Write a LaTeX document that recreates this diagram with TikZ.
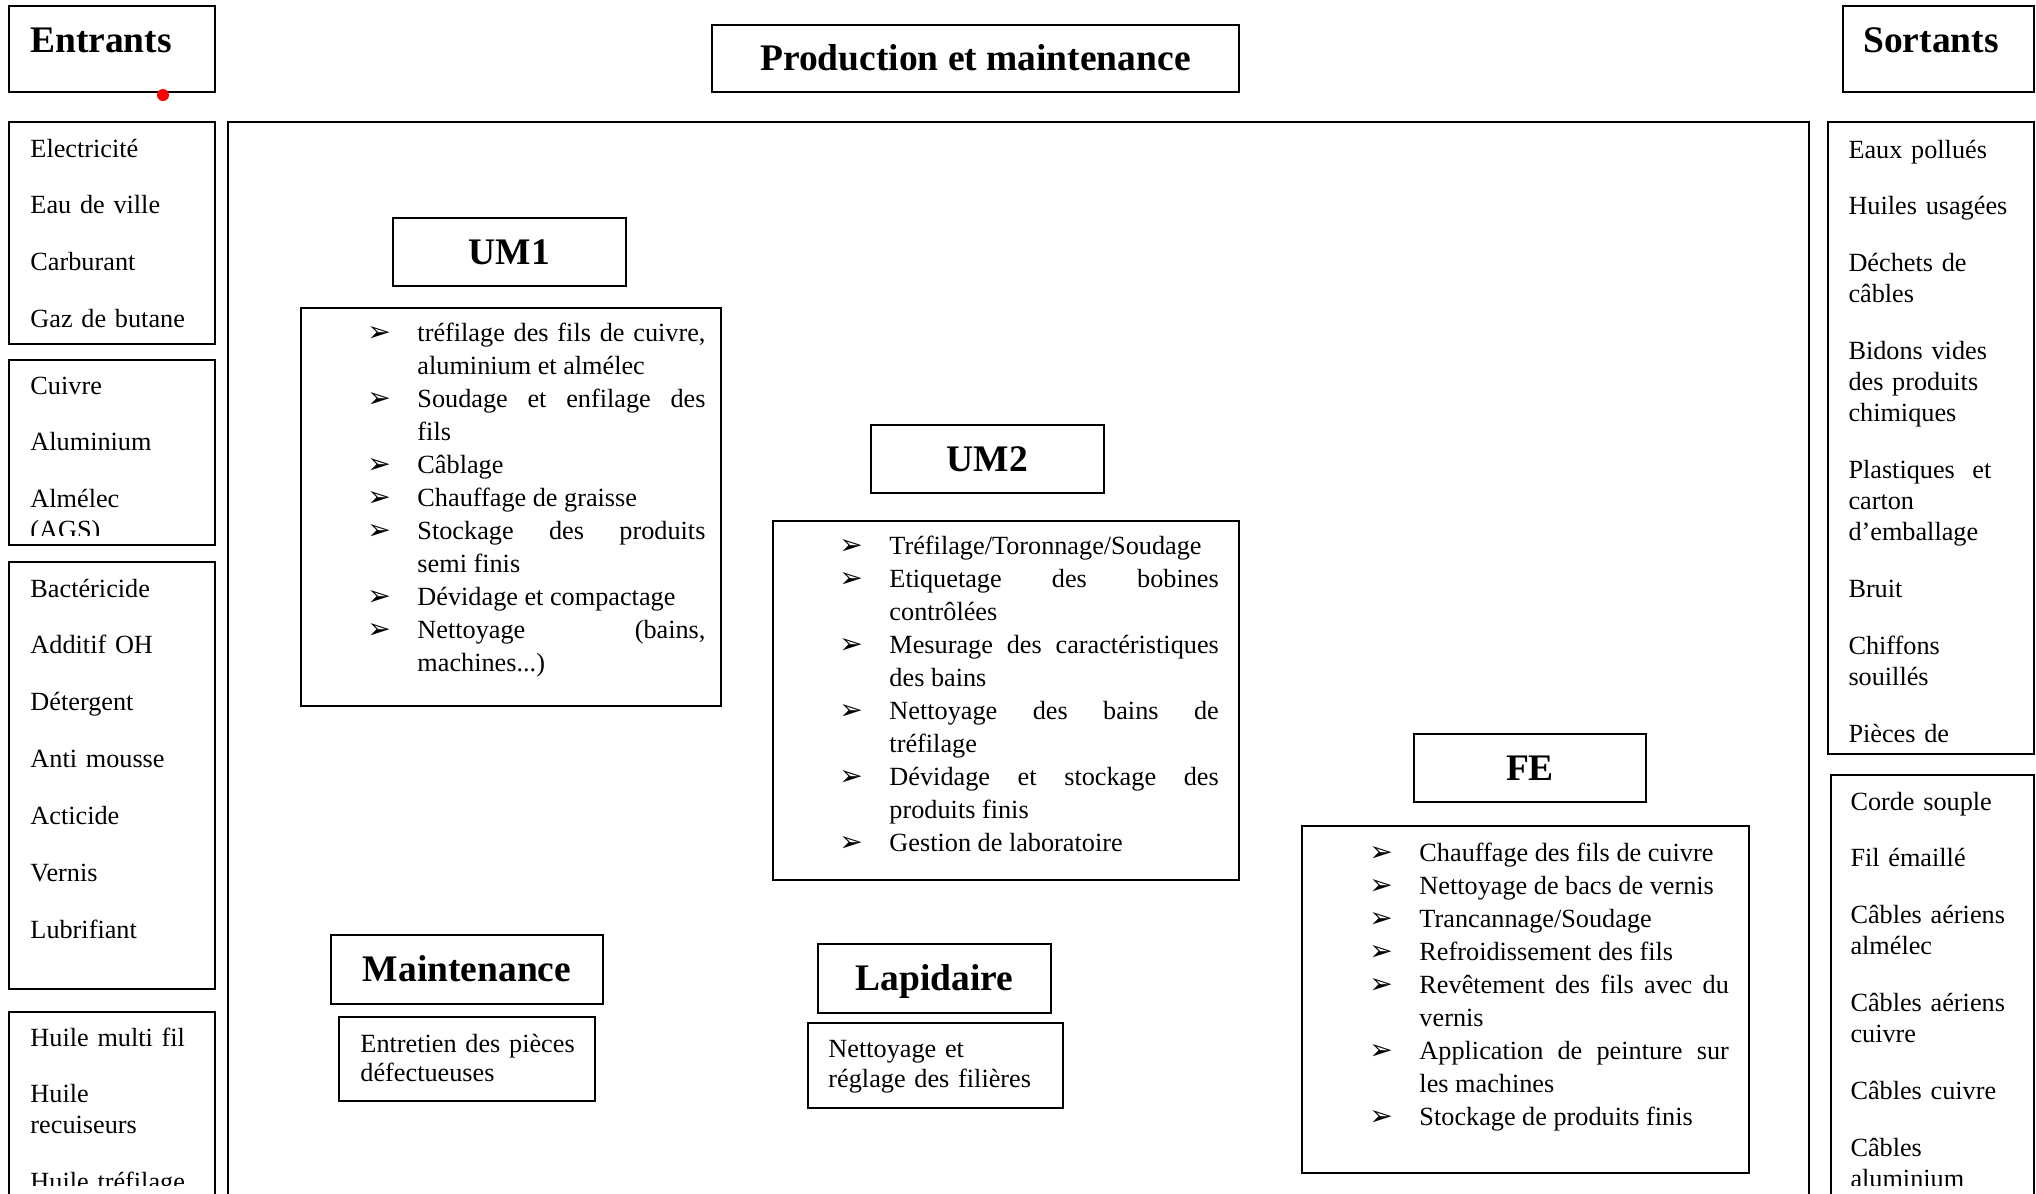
\documentclass[tikz,border=0pt]{standalone}
\usepackage{fontspec}
\setmainfont{Liberation Serif}
\newfontfamily\dingfont{DejaVu Sans}
\usetikzlibrary{fit, positioning}
\setlength{\parskip}{0pt}
\hyphenpenalty=10000
\exhyphenpenalty=10000
\tolerance=9999

% puce fleche des listes
\newcommand{\fleche}{{\dingfont\fontsize{12}{12}\selectfont ➢}}
\newcommand{\puce}[1]{\noindent\hangindent=0.75cm\hangafter=1\makebox[0.75cm][l]{\fleche}#1\par}

\begin{document}
\begin{tikzpicture}[
    x=0.015cm, y=-0.015cm,
    cadre/.style={draw, line width=0.8pt, inner sep=0pt},
    titre/.style={font=\fontsize{16}{19}\selectfont\bfseries, text height=10.6pt,
                  text depth=0pt, inner sep=0pt},
    liste/.style={anchor=base west, inner sep=0pt, align=left, text width=3.2cm,
                  font=\fontsize{11.2}{13.2}\selectfont},
    taches/.style={anchor=base west, inner sep=0pt, align=justify,
                   font=\fontsize{11.2}{14.1}\selectfont}
]
    \useasboundingbox (0,0) rectangle (2036,1193);
    \clip (0,0) rectangle (2036,1193);

    % En-tetes
    \node[cadre, fit={(9,6) (215,92)}] (entrants) {};
    \node[titre] (entrantslbl) at (101,40) {Entrants};
    \node[cadre, fit={(712,25) (1239,92)}] (prod) {};
    \node[titre] (prodlbl) at (prod.center) {Production et maintenance};
    \node[cadre, fit={(1843,6) (2034,92)}] (sortants) {};
    \node[titre] (sortantslbl) at (1931,40) {Sortants};
    \node[circle, fill=red, inner sep=0pt, minimum size=0.18cm] (point) at (163,95) {};

    % Entrants
    \node[cadre, fit={(9,122) (215,344)}] (e1) {};
    \node[liste] (e1txt) at (30,157)
        {Electricité\\[11.1pt]Eau de ville\\[11.1pt]Carburant\\[11.1pt]Gaz de butane};
    \node[cadre, fit={(9,360) (215,545)}] (e2) {};
    \begin{scope}
        \clip (9,360) rectangle (215,535);
        \node[liste] (e2txt) at (30,394)
            {Cuivre\\[11.1pt]Aluminium\\[11.1pt]Almélec\\(AGS)};
    \end{scope}
    \node[cadre, fit={(9,562) (215,989)}] (e3) {};
    \node[liste] (e3txt) at (30,597)
        {Bactéricide\\[11.1pt]Additif OH\\[11.1pt]Détergent\\[11.1pt]Anti mousse\\[11.1pt]Acticide\\[11.1pt]Vernis\\[11.1pt]Lubrifiant};
    \node[cadre, fit={(9,1012) (215,1240)}] (e4) {};
    \begin{scope}
        \clip (9,1012) rectangle (215,1185);
        \node[liste] (e4txt) at (30,1046)
            {Huile multi fil\\[11.1pt]Huile\\recuiseurs\\[11.1pt]Huile tréfilage};
    \end{scope}

    % Sortants
    \node[cadre, fit={(1828,122) (2034,754)}] (s1) {};
    \node[liste] (s1txt) at (1848,158)
        {Eaux pollués\\[11.1pt]Huiles usagées\\[11.1pt]Déchets de\\câbles\\[11.1pt]Bidons vides\\des produits\\chimiques\\[11.1pt]Plastiques\ \ et\\carton\\d’emballage\\[11.1pt]Bruit\\[11.1pt]Chiffons\\souillés\\[11.1pt]Pièces de};
    \node[cadre, fit={(1831,775) (2034,1240)}] (s2) {};
    \begin{scope}
        \clip (1831,775) rectangle (2034,1185);
        \node[liste] (s2txt) at (1850,810)
            {Corde souple\\[11.1pt]Fil émaillé\\[11.1pt]Câbles aériens\\almélec\\[11.1pt]Câbles aériens\\cuivre\\[11.1pt]Câbles cuivre\\[11.1pt]Câbles\\aluminium};
    \end{scope}

    % Production et maintenance
    \node[cadre, fit={(228,122) (1809,1240)}] (usine) {};

    \node[cadre, fit={(393,218) (626,286)}] (um1) {};
    \node[titre] (um1lbl) at (um1.center) {UM1};
    \node[cadre, fit={(301,308) (721,706)}] (um1box) {};
    \node[taches, text width=5.07cm] (um1txt) at (367,341)
        {\puce{tréfilage des fils de cuivre,\linebreak aluminium et almélec}
         \puce{Soudage et enfilage des\linebreak fils}
         \puce{Câblage}
         \puce{Chauffage de graisse}
         \puce{Stockage des produits\linebreak semi finis}
         \puce{Dévidage et compactage}
         \puce{Nettoyage (bains,\linebreak machines...)}};

    \node[cadre, fit={(871,425) (1104,493)}] (um2) {};
    \node[titre] (um2lbl) at (um2.center) {UM2};
    \node[cadre, fit={(773,521) (1239,880)}] (um2box) {};
    \node[taches, text width=5.69cm] (um2txt) at (839,554)
        {\puce{Tréfilage/Toronnage/Soudage}
         \puce{Etiquetage des bobines\linebreak contrôlées}
         \puce{Mesurage des caractéristiques\linebreak des bains}
         \puce{Nettoyage des bains de\linebreak tréfilage}
         \puce{Dévidage et stockage des\linebreak produits finis}
         \puce{Gestion de laboratoire}};

    \node[cadre, fit={(1414,734) (1646,802)}] (fe) {};
    \node[titre] (felbl) at (fe.center) {FE};
    \node[cadre, fit={(1302,826) (1749,1173)}] (febox) {};
    \node[taches, text width=5.39cm] (fetxt) at (1369,861)
        {\puce{Chauffage des fils de cuivre}
         \puce{Nettoyage de bacs de vernis}
         \puce{Trancannage/Soudage}
         \puce{Refroidissement des fils}
         \puce{Revêtement des fils avec du\linebreak vernis}
         \puce{Application de peinture sur\linebreak les machines}
         \puce{Stockage de produits finis}};

    \node[cadre, fit={(331,935) (603,1004)}] (maint) {};
    \node[titre] (maintlbl) at (maint.center) {Maintenance};
    \node[cadre, fit={(339,1017) (595,1101)}] (maintbox) {};
    \node[liste, text width=4cm, font=\fontsize{11.2}{12.7}\selectfont] (mainttxt) at (360,1052)
        {Entretien des pièces\\défectueuses};

    \node[cadre, fit={(818,944) (1051,1013)}] (lapi) {};
    \node[titre] (lapilbl) at (lapi.center) {Lapidaire};
    \node[cadre, fit={(808,1023) (1063,1108)}] (lapibox) {};
    \node[liste] (lapitxt) at (828,1057)
        {Nettoyage et\\réglage des filières};
\end{tikzpicture}
\end{document}
